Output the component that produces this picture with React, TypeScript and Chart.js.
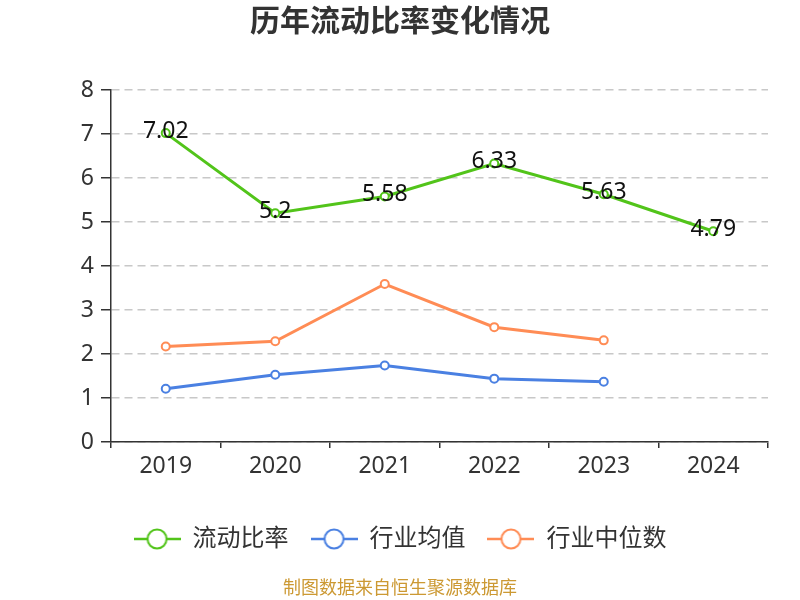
import { useEffect, useRef } from 'react';
import { Chart, registerables } from 'chart.js';

Chart.register(...registerables);

// 연도 / 값
const YEARS = ['2019', '2020', '2021', '2022', '2023', '2024'];
const CURRENT_RATIO = [7.02, 5.2, 5.58, 6.33, 5.63, 4.79];
const INDUSTRY_AVG = [1.21, 1.53, 1.74, 1.44, 1.37, null];
const INDUSTRY_MEDIAN = [2.17, 2.29, 3.59, 2.61, 2.31, null];
const Y_TICKS = [0, 1, 2, 3, 4, 5, 6, 7, 8];

const GREEN = '#52c41a';
const BLUE = '#4a80e2';
const ORANGE = '#ff8c55';
const FONT = "'Noto Sans', 'Noto Sans CJK SC', sans-serif";

function legendIcon(color: string) {
  const c = document.createElement('canvas');
  c.width = 47;
  c.height = 24;
  const ctx = c.getContext('2d')!;
  ctx.strokeStyle = color;
  ctx.lineWidth = 2.5;
  ctx.beginPath();
  ctx.moveTo(0, 12);
  ctx.lineTo(47, 12);
  ctx.stroke();
  ctx.beginPath();
  ctx.arc(23.5, 12, 9.5, 0, Math.PI * 2);
  ctx.fillStyle = '#fff';
  ctx.fill();
  ctx.lineWidth = 2;
  ctx.stroke();
  return c;
}

const valueLabels = {
  id: 'valueLabels',
  afterDatasetsDraw(chart: Chart) {
    const { ctx } = chart;
    const meta = chart.getDatasetMeta(0);
    ctx.save();
    ctx.font = `23px ${FONT}`;
    ctx.fillStyle = '#111';
    ctx.textAlign = 'center';
    ctx.textBaseline = 'middle';
    meta.data.forEach((pt, i) => {
      ctx.fillText(String(CURRENT_RATIO[i]), pt.x, pt.y - 2);
    });
    ctx.restore();
  },
};

const footer = {
  id: 'footer',
  afterDraw(chart: Chart) {
    const { ctx } = chart;
    ctx.save();
    ctx.font = `18px ${FONT}`;
    ctx.fillStyle = '#cc9933';
    ctx.textAlign = 'center';
    ctx.textBaseline = 'middle';
    ctx.fillText('制图数据来自恒生聚源数据库', chart.width / 2, 589);
    ctx.restore();
  },
};

export default function App() {
  const canvasRef = useRef<HTMLCanvasElement>(null);
  const chartRef = useRef<Chart | null>(null);

  useEffect(() => {
    if (!canvasRef.current) return;
    chartRef.current?.destroy();

    const icons = [legendIcon(GREEN), legendIcon(BLUE), legendIcon(ORANGE)];
    const line = (label: string, data: (number | null)[], color: string) => ({
      label,
      data,
      borderColor: color,
      backgroundColor: '#fff',
      borderWidth: 3,
      pointRadius: 4,
      pointBorderWidth: 2,
      pointBackgroundColor: '#fff',
      pointBorderColor: color,
      tension: 0,
      fill: false,
    });

    chartRef.current = new Chart(canvasRef.current, {
      type: 'line',
      data: {
        labels: YEARS,
        datasets: [
          line('流动比率', CURRENT_RATIO, GREEN),
          line('行业均值', INDUSTRY_AVG, BLUE),
          line('行业中位数', INDUSTRY_MEDIAN, ORANGE),
        ],
      },
      options: {
        responsive: false,
        animation: false,
        layout: { padding: { left: 0, right: 0, top: 0, bottom: 39 } },
        plugins: {
          tooltip: { enabled: false },
          title: {
            display: true,
            text: '历年流动比率变化情况',
            color: '#333',
            font: { size: 30, weight: 'bold', family: FONT },
            padding: { top: 4, bottom: 50 },
          },
          legend: {
            position: 'bottom',
            labels: {
              usePointStyle: true,
              pointStyleWidth: 47,
              padding: 22,
              color: '#333',
              font: { size: 24, family: FONT },
              generateLabels: (chart) =>
                chart.data.datasets.map((ds, i) => ({
                  text: ds.label as string,
                  pointStyle: icons[i],
                  fillStyle: '#fff',
                  strokeStyle: ds.borderColor as string,
                  lineWidth: 0,
                  hidden: false,
                  datasetIndex: i,
                  fontColor: '#333',
                })),
            },
          },
        },
        scales: {
          x: {
            offset: true,
            afterFit: (axis) => {
              axis.height = 63;
              axis.paddingRight = 32;
            },
            grid: {
              drawOnChartArea: false,
              tickLength: 6,
              tickColor: '#333',
              offset: true,
              lineWidth: 1.5,
            },
            border: { color: '#333', width: 1.5 },
            ticks: { color: '#333', font: { size: 23, family: FONT }, padding: 5 },
          },
          y: {
            min: 0,
            max: 8,
            afterBuildTicks: (axis) => {
              axis.ticks = Y_TICKS.map((v) => ({ value: v }));
            },
            afterFit: (axis) => {
              axis.width = 111;
            },
            grid: { color: '#c8c8c8', tickColor: '#333', tickLength: 10, lineWidth: 1.5 },
            border: { color: '#333', width: 1.5, dash: [8, 5] },
            ticks: { color: '#333', font: { size: 23, family: FONT }, padding: 7 },
          },
        },
      },
      plugins: [valueLabels, footer],
    });

    return () => {
      chartRef.current?.destroy();
      chartRef.current = null;
    };
  }, []);

  return (
    <div style={{ position: 'fixed', left: 0, top: 0, width: 800, height: 600, background: '#fff' }}>
      <canvas ref={canvasRef} width={800} height={600} style={{ width: 800, height: 600 }} />
    </div>
  );
}
